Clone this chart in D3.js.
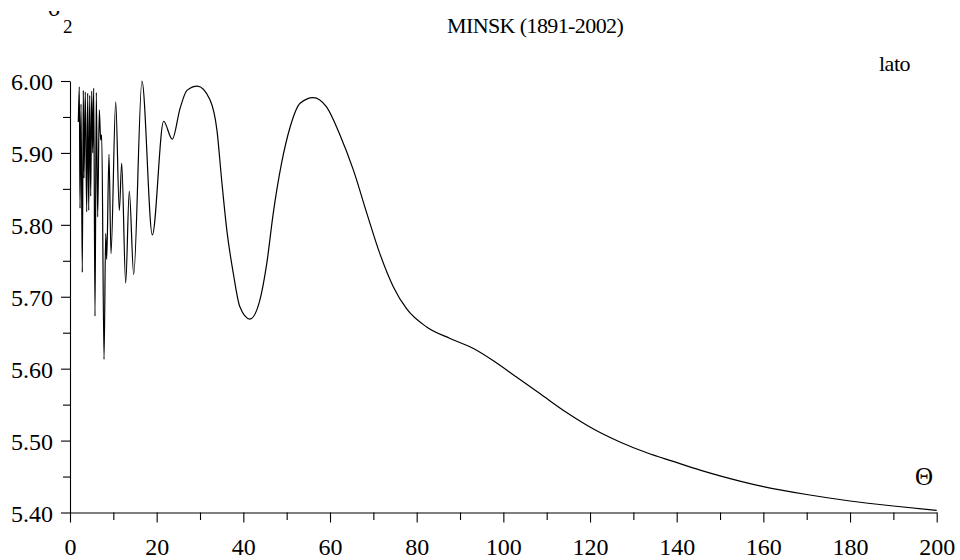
<!DOCTYPE html>
<html>
<head>
<meta charset="utf-8">
<script src="https://cdn.jsdelivr.net/npm/d3@7"></script>
<style>
  body { margin: 0; background: #ffffff; }
</style>
</head>
<body>
<script>
// values
const theta = [1.92, 2.15, 2.31, 2.54, 2.84, 3.07, 3.23, 3.53, 3.85, 4.08,
  4.32, 4.55, 4.78, 5.01, 5.24, 5.47, 5.77, 6.07, 6.39, 6.76,
  7.08, 7.32, 7.85, 8.24, 8.47, 9.0, 9.46, 10.55, 11.38, 11.93,
  12.85, 13.68, 14.7, 16.6, 19.0, 21.6, 23.6, 25.4, 27.0, 29.4,
  32.3, 33.9, 35.0, 36.2, 37.7, 39.2, 41.5, 43.8, 45.4, 46.9,
  48.8, 50.8, 53.1, 56.1, 59.2, 62.3, 65.4, 68.5, 71.5, 74.6,
  77.7, 82.3, 87.7, 93.1, 97.7, 103.1, 108.5, 114.6, 120.8, 126.9,
  133.1, 139.2, 145.4, 150, 160, 170, 180, 190, 200];
const sigma2 = [5.943, 5.992, 5.823, 5.968, 5.734, 5.987, 5.865, 5.985, 5.818, 5.983,
  5.820, 5.980, 5.840, 5.986, 5.900, 5.990, 5.673, 5.984, 5.811, 5.960,
  5.918, 5.925, 5.613, 5.788, 5.752, 5.898, 5.760, 5.971, 5.820, 5.886,
  5.719, 5.847, 5.731, 6.000, 5.786, 5.944, 5.919, 5.962, 5.987, 5.993,
  5.974, 5.932, 5.862, 5.792, 5.732, 5.686, 5.669, 5.695, 5.746, 5.816,
  5.885, 5.936, 5.969, 5.977, 5.964, 5.925, 5.876, 5.816, 5.760, 5.714,
  5.683, 5.658, 5.642, 5.628, 5.611, 5.588, 5.565, 5.539, 5.516, 5.498,
  5.483, 5.471, 5.459, 5.451, 5.436, 5.425, 5.416, 5.409, 5.403];
const xTicks = [0, 20, 40, 60, 80, 100, 120, 140, 160, 180, 200];
const yTicks = [5.40, 5.50, 5.60, 5.70, 5.80, 5.90, 6.00];
const title = "MINSK (1891-2002)";

const serif = "'Liberation Serif', 'DejaVu Serif', 'Times New Roman', Times, serif";
const width = 960;
const height = 560;
const svg = d3.select("body").append("svg").attr("width", width).attr("height", height);

const x = d3.scaleLinear().domain([0, 200]).range([70, 936.7]);
const y = d3.scaleLinear().domain([5.4, 6.0]).range([512.5, 81]);

// minor ticks between the labelled ones
const xMinor = xTicks.slice(1).map((d, i) => (d + xTicks[i]) / 2);
const yMinor = yTicks.slice(1).map((d, i) => (d + yTicks[i]) / 2);

// x axis
const xAxis = svg.append("g").attr("transform", "translate(0," + y(5.4) + ")")
  .call(d3.axisBottom(x).tickValues(xTicks).tickSize(10).tickSizeOuter(0).tickFormat(d3.format("d")));
xAxis.attr("font-family", serif).attr("font-size", 24);
xAxis.selectAll("text").attr("y", 42.5).attr("dy", 0).attr("fill", "#000");
svg.append("g").attr("transform", "translate(0," + y(5.4) + ")")
  .call(d3.axisBottom(x).tickValues(xMinor).tickSize(7.5).tickSizeOuter(0).tickFormat(""))
  .select(".domain").remove();

// y axis
const yAxis = svg.append("g").attr("transform", "translate(" + x(0) + ",0)")
  .call(d3.axisLeft(y).tickValues(yTicks).tickSize(9).tickSizeOuter(0).tickFormat(d3.format(".2f")));
yAxis.attr("font-family", serif).attr("font-size", 24);
yAxis.selectAll("text").attr("x", -17).attr("dy", "0.36em").attr("fill", "#000");
svg.append("g").attr("transform", "translate(" + x(0) + ",0)")
  .call(d3.axisLeft(y).tickValues(yMinor).tickSize(7).tickSizeOuter(0).tickFormat(""))
  .select(".domain").remove();

svg.selectAll(".domain, .tick line").attr("stroke", "#000").attr("stroke-width", 1.1);

// the curve
const pts = theta.map((t, i) => [t, sigma2[i]]);
const line = d3.line().x(d => x(d[0])).y(d => y(d[1])).curve(d3.curveMonotoneX);
svg.append("path").datum(pts).attr("d", line)
  .attr("fill", "none").attr("stroke", "#000").attr("stroke-width", 1.2);

// texts
const labels = svg.append("g").attr("font-family", serif).attr("fill", "#000");
labels.append("text").attr("x", 447).attr("y", 33).attr("font-size", 22)
  .attr("letter-spacing", -0.6).text(title);
labels.append("text").attr("x", 879).attr("y", 71).attr("font-size", 22)
  .attr("letter-spacing", -0.5).text("lato");
labels.append("text").attr("x", 915).attr("y", 485).attr("font-size", 25).text("Θ");

// axis name, its top is cut off as in the picture
svg.append("clipPath").attr("id", "cut").append("rect")
  .attr("x", 0).attr("y", 11).attr("width", 120).attr("height", 40);
labels.append("text").attr("x", 48).attr("y", 16).attr("font-size", 24)
  .attr("clip-path", "url(#cut)").text("σ");
labels.append("text").attr("x", 63).attr("y", 33).attr("font-size", 19).text("2");
</script>
</body>
</html>
